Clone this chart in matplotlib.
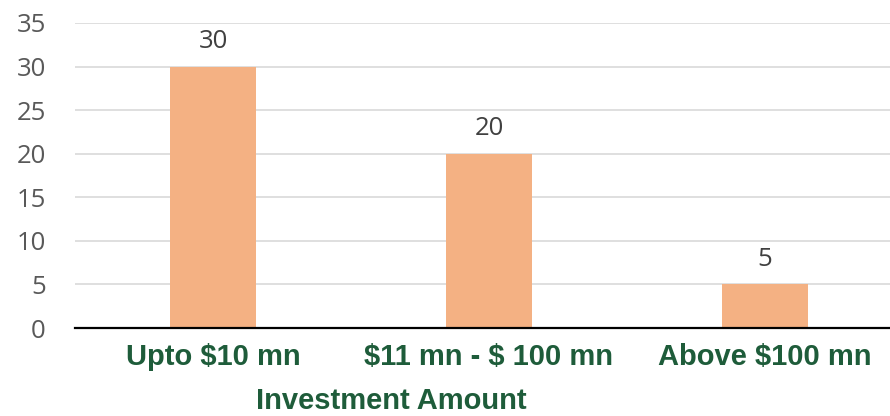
import matplotlib
matplotlib.use("Agg")
import matplotlib.pyplot as plt

plt.rcParams["text.parse_math"] = False

categories = ["Upto $10 mn", "$11 mn - $ 100 mn", "Above $100 mn"]
values = [30, 20, 5]
yticks = [0, 5, 10, 15, 20, 25, 30, 35]

BAR = "#F4B183"
GREEN = "#1E5C3A"
GREY = "#595959"

fig = plt.figure(figsize=(8.9, 4.16), dpi=100)
ax = fig.add_axes([75 / 890, 88 / 416, 815 / 890, 305 / 416])

x = list(range(len(categories)))
ax.bar(x, values, width=0.31, color=BAR, zorder=3)
for xi, v in zip(x, values):
    ax.annotate(str(v), (xi, v), xytext=(0, 9), textcoords="offset points",
                ha="center", va="bottom", fontsize=18.5, color="#404040",
                family="Open Sans")

ax.set_xlim(-0.5, (890 - 213) / 276)
ax.set_ylim(0, 35)
ax.set_yticks(yticks)
ax.yaxis.grid(True, color="#D9D9D9", lw=1.2, zorder=0)
ax.set_axisbelow(True)
for side in ("top", "right", "left"):
    ax.spines[side].set_visible(False)
ax.spines["bottom"].set_color("black")
ax.spines["bottom"].set_linewidth(1.6)
ax.spines["bottom"].set_zorder(4)
ax.tick_params(length=0)
ax.tick_params(axis="y", pad=21, labelsize=18.5, labelcolor=GREY)
for lab in ax.get_yticklabels():
    lab.set_family("Open Sans")

ax.set_xticks(x)
ax.set_xticklabels(categories, fontsize=21, fontweight="bold", color=GREEN,
                   family="Liberation Sans")
ax.tick_params(axis="x", pad=11)
# axis title sits right at the bottom edge, as in the source image
fig.text(391 / 890, 1 / 416, "Investment Amount", fontsize=21, fontweight="bold",
         color=GREEN, family="Liberation Sans", ha="center", va="bottom")

fig.savefig("out.png", dpi=100)
